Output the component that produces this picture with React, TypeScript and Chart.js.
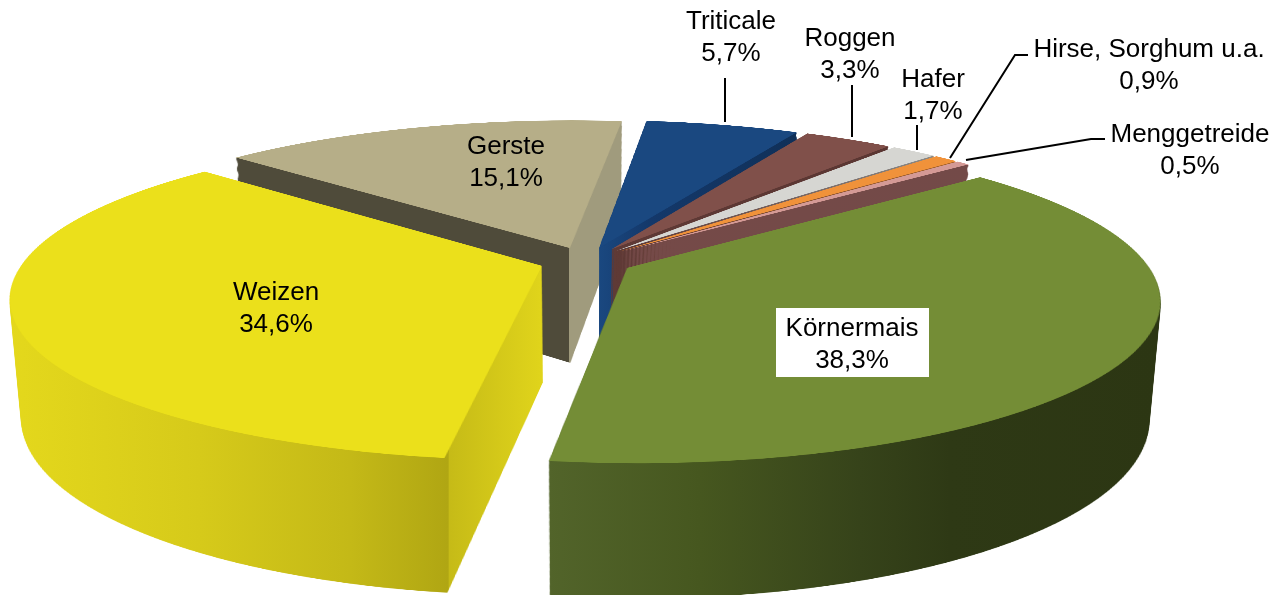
import React, { useEffect, useRef } from "react";
import { Chart, registerables } from "chart.js";

Chart.register(...registerables);

const categories = ["Körnermais", "Weizen", "Gerste", "Triticale", "Roggen", "Hafer", "Hirse, Sorghum u.a.", "Menggetreide"];
const shares = [38.3, 34.6, 15.1, 5.7, 3.3, 1.7, 0.9, 0.5];
const topColors = ["#748d36", "#ebe01b", "#b6ae88", "#1a4880", "#80504a", "#d6d6d2", "#f0923a", "#d49a96"];

// painter's order, back to front
const drawOrder = [2, 3, 4, 5, 6, 7, 1, 0];

// side-face shading per slice: [screen x, colour]
const sideShades: [number, string][][] = [
  [[548, "#52642a"], [700, "#46571f"], [860, "#36431a"], [950, "#2e3915"], [1157, "#2c3613"]],
  [[10, "#e4d81c"], [200, "#d6ca1a"], [350, "#c4b917"], [448, "#b0a613"], [449.5, "#c6bb17"], [541, "#e0d41b"]],
  [[230, "#4f4b3a"], [568.5, "#4f4b3a"], [569.5, "#a09b7d"], [625, "#a09b7d"]],
  [[598, "#1a4880"], [650, "#14386a"], [800, "#103058"]],
  [[608, "#5f3a36"], [900, "#5a3632"]],
  [[608, "#5f3a36"], [630, "#5f3a36"], [950, "#8e8e8a"]],
  [[608, "#5f3a36"], [630, "#5f3a36"], [960, "#a9642a"]],
  [[610, "#c29a96"], [620, "#c29a96"], [622, "#754a48"], [985, "#734a48"]],
];

// label anchors (centre x, first line middle y)
const labelAnchors: [number, number][] = [
  [852, 329], [276, 293], [506, 147], [731, 22], [850, 39], [933, 80], [1149, 50], [1190, 135],
];
const maisBox = { x: 776, y: 308, w: 153, h: 69 };
const leaders: [number, number][][] = [
  [[725, 78], [725, 122]],
  [[852, 85], [852, 137]],
  [[917, 125], [917, 150]],
  [[1028, 55], [1015, 55], [950, 158]],
  [[1105, 139], [1091, 139], [966, 160]],
];

// perspective model of the pie
const view = { cx: 586, horizon: 261, radius: 518, foreshorten: 156, persp: 0.187, explode: 0.09, depth: 116, openBottom: 0.095, shrinkBottom: 0.02 };
const FLAT = 1300;
const FLAT_R = 580;

function warp(dst: CanvasRenderingContext2D, src: HTMLCanvasElement, t: number, vMin: number, vMax: number) {
  const H = view.horizon + view.depth * t;
  const B = view.foreshorten * (1 + view.openBottom * t);
  const R = view.radius * (1 - view.shrinkBottom * t);
  const p = view.persp;
  const yOf = (v: number) => H + (B * v) / (1 - p * v);
  const vOf = (Y: number) => (Y - H) / (B + p * (Y - H));
  const y0 = Math.floor(yOf(vMin)) - 1;
  const y1 = Math.ceil(yOf(vMax)) + 1;
  for (let Y = y0; Y < y1; Y++) {
    const a = vOf(Y);
    const b = vOf(Y + 1);
    const w = 1 / (1 - (p * (a + b)) / 2);
    const dw = (FLAT / FLAT_R) * R * w;
    const sy = FLAT / 2 + a * FLAT_R;
    const sh = (b - a) * FLAT_R;
    if (sy < 0 || sy + sh > FLAT) continue;
    dst.drawImage(src, 0, sy, FLAT, sh, view.cx - dw / 2, Y, dw, 1);
  }
}

const pie3d = {
  id: "pie3d",
  beforeDatasetsDraw(chart: any) {
    const ctx: CanvasRenderingContext2D = chart.ctx;
    const arcs = chart.getDatasetMeta(0).data;
    const flat = document.createElement("canvas");
    flat.width = FLAT;
    flat.height = FLAT;
    const fc = flat.getContext("2d")!;
    const tmp = document.createElement("canvas");
    tmp.width = chart.width;
    tmp.height = chart.height;
    const tc = tmp.getContext("2d")!;
    for (const i of drawOrder) {
      const arc = arcs[i];
      const mid = (arc.startAngle + arc.endAngle) / 2;
      const f = FLAT_R / arc.outerRadius;
      const ex = Math.cos(mid) * view.explode;
      const ey = Math.sin(mid) * view.explode;
      fc.setTransform(1, 0, 0, 1, 0, 0);
      fc.clearRect(0, 0, FLAT, FLAT);
      fc.setTransform(f, 0, 0, f, FLAT / 2 + ex * FLAT_R - arc.x * f, FLAT / 2 + ey * FLAT_R - arc.y * f);
      arc.draw(fc);
      let vMin = ey;
      let vMax = ey;
      for (let k = 0; k <= 48; k++) {
        const s = ey + Math.sin(arc.startAngle + ((arc.endAngle - arc.startAngle) * k) / 48);
        vMin = Math.min(vMin, s);
        vMax = Math.max(vMax, s);
      }
      tc.globalCompositeOperation = "source-over";
      tc.clearRect(0, 0, tmp.width, tmp.height);
      for (let d = view.depth; d >= 1; d--) warp(tc, flat, d / view.depth, vMin, vMax);
      // thin wedges leave faint gaps between layers: firm up their coverage
      if (i >= 3) {
        tc.drawImage(tmp, 0, 0);
        tc.drawImage(tmp, 0, 0);
      }
      const stops = sideShades[i];
      const x0 = stops[0][0];
      const x1 = stops[stops.length - 1][0];
      const g = tc.createLinearGradient(x0, 0, x1, 0);
      stops.forEach(([x, c]) => g.addColorStop((x - x0) / (x1 - x0), c));
      tc.globalCompositeOperation = "source-in";
      tc.fillStyle = g;
      tc.fillRect(0, 0, tmp.width, tmp.height);
      ctx.drawImage(tmp, 0, 0);
      warp(ctx, flat, 0, vMin, vMax);
    }
    return false;
  },
  afterDraw(chart: any) {
    const ctx: CanvasRenderingContext2D = chart.ctx;
    ctx.save();
    ctx.strokeStyle = "#000";
    ctx.lineWidth = 2;
    leaders.forEach((pts) => {
      ctx.beginPath();
      pts.forEach(([x, y], k) => (k ? ctx.lineTo(x, y) : ctx.moveTo(x, y)));
      ctx.stroke();
    });
    ctx.fillStyle = "#fff";
    ctx.fillRect(maisBox.x, maisBox.y, maisBox.w, maisBox.h);
    ctx.fillStyle = "#000";
    ctx.font = '26px "Liberation Sans", Arial, sans-serif';
    ctx.textAlign = "center";
    ctx.textBaseline = "middle";
    categories.forEach((name, i) => {
      const [x, y] = labelAnchors[i];
      ctx.fillText(name, x, y);
      ctx.fillText(shares[i].toFixed(1).replace(".", ",") + "%", x, y + 31.5);
    });
    ctx.restore();
  },
};

export default function App() {
  const ref = useRef<HTMLCanvasElement>(null);
  useEffect(() => {
    const chart = new Chart(ref.current!, {
      type: "pie",
      data: {
        labels: categories,
        datasets: [{ data: shares, backgroundColor: topColors, borderWidth: 0 }],
      },
      options: {
        animation: false,
        responsive: false,
        rotation: 50.1,
        layout: { padding: 0 },
        plugins: { legend: { display: false }, tooltip: { enabled: false } },
      },
      plugins: [pie3d],
    } as any);
    return () => chart.destroy();
  }, []);
  return (
    <canvas
      ref={ref}
      width={1287}
      height={595}
      style={{ position: "fixed", left: 0, top: 0, display: "block", width: 1287, height: 595, background: "#fff" }}
    />
  );
}
